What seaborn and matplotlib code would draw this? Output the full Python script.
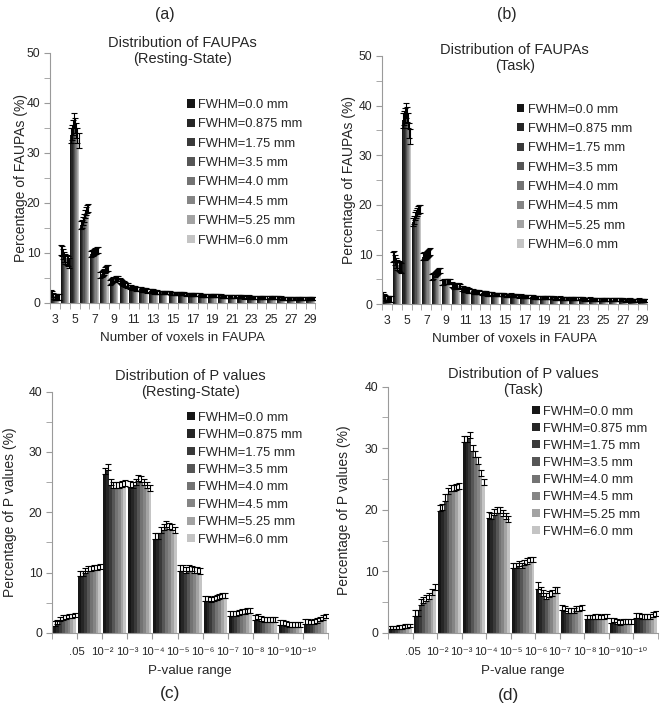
import numpy as np
import pandas as pd
import matplotlib
matplotlib.use('Agg')
import matplotlib.pyplot as plt
import seaborn as sns
from matplotlib.ticker import MultipleLocator
from matplotlib.container import BarContainer

# Series (smoothing kernels) and their gray shades
series = ['FWHM=0.0 mm', 'FWHM=0.875 mm', 'FWHM=1.75 mm', 'FWHM=3.5 mm',
          'FWHM=4.0 mm', 'FWHM=4.5 mm', 'FWHM=5.25 mm', 'FWHM=6.0 mm']
grays = ['#161616', '#262626', '#3a3a3a', '#565656',
         '#737373', '#858585', '#a3a3a3', '#c4c4c4']

# Top row: FAUPA size categories
voxels = [str(v) for v in range(3, 30)]

rest_faupa = [
    [2.0, 1.8, 1.3, 1.2, 1.1, 1.1, 1.1, 1.1],
    [10.5, 10.3, 9.8, 9.2, 8.8, 8.5, 8.3, 8.0],
    [33.5, 34.0, 35.0, 36.5, 35.5, 34.5, 33.5, 32.5],
    [15.5, 15.8, 16.3, 17.0, 17.8, 18.3, 18.8, 19.0],
    [9.8, 10.0, 10.0, 10.2, 10.3, 10.4, 10.5, 10.6],
    [5.5, 5.7, 6.0, 6.2, 6.5, 6.7, 6.9, 7.0],
    [4.0, 4.2, 4.4, 4.6, 4.7, 4.8, 4.9, 4.9],
    [4.4, 4.3, 4.1, 3.9, 3.8, 3.6, 3.5, 3.4],
    [3.1, 3.1, 3.0, 3.0, 2.9, 2.9, 2.8, 2.8],
    [2.7, 2.7, 2.6, 2.6, 2.5, 2.5, 2.5, 2.4],
    [2.4, 2.3, 2.3, 2.3, 2.2, 2.2, 2.2, 2.1],
    [2.1, 2.1, 2.1, 2.0, 2.0, 2.0, 2.0, 2.0],
    [2.0, 2.0, 1.9, 1.9, 1.9, 1.9, 1.9, 1.8],
    [1.9, 1.9, 1.8, 1.8, 1.8, 1.8, 1.7, 1.7],
    [1.7, 1.7, 1.7, 1.7, 1.6, 1.6, 1.6, 1.6],
    [1.6, 1.6, 1.5, 1.5, 1.5, 1.5, 1.5, 1.5],
    [1.5, 1.5, 1.4, 1.4, 1.4, 1.4, 1.4, 1.4],
    [1.4, 1.4, 1.4, 1.3, 1.3, 1.3, 1.3, 1.3],
    [1.3, 1.3, 1.3, 1.3, 1.2, 1.2, 1.2, 1.2],
    [1.2, 1.2, 1.2, 1.2, 1.2, 1.2, 1.1, 1.1],
    [1.2, 1.2, 1.1, 1.1, 1.1, 1.1, 1.1, 1.1],
    [1.1, 1.1, 1.1, 1.1, 1.0, 1.0, 1.0, 1.0],
    [1.1, 1.0, 1.0, 1.0, 1.0, 1.0, 1.0, 1.0],
    [1.0, 1.0, 1.0, 1.0, 0.9, 0.9, 0.9, 0.9],
    [0.9, 0.9, 0.9, 0.9, 0.9, 0.9, 0.9, 0.9],
    [0.9, 0.9, 0.9, 0.9, 0.9, 0.8, 0.8, 0.8],
    [0.9, 0.9, 0.8, 0.8, 0.8, 0.8, 0.8, 0.8],
]
rest_faupa_err = [0.6, 1.0, 1.5, 0.8, 0.6, 0.6, 0.5, 0.5, 0.4, 0.4, 0.4, 0.3, 0.3, 0.3,
                  0.3, 0.3, 0.3, 0.3, 0.3, 0.3, 0.3, 0.3, 0.3, 0.3, 0.3, 0.3, 0.3]

task_faupa = [
    [1.8, 1.5, 1.2, 1.0, 1.0, 1.0, 1.0, 1.0],
    [9.5, 9.8, 9.0, 8.4, 8.0, 7.7, 7.5, 7.3],
    [37.0, 37.5, 38.0, 39.0, 38.2, 37.0, 35.0, 33.8],
    [16.5, 17.0, 17.8, 18.2, 18.6, 19.0, 19.2, 19.2],
    [9.6, 9.8, 9.6, 9.8, 10.0, 10.2, 10.5, 10.6],
    [5.4, 5.7, 6.0, 6.2, 6.4, 6.6, 6.8, 6.8],
    [4.3, 4.4, 4.5, 4.6, 4.6, 4.6, 4.5, 4.5],
    [3.9, 3.8, 3.6, 3.6, 3.7, 3.8, 3.7, 3.6],
    [3.2, 3.1, 3.0, 3.0, 2.9, 2.9, 2.8, 2.8],
    [2.6, 2.6, 2.5, 2.5, 2.5, 2.4, 2.4, 2.4],
    [2.3, 2.3, 2.2, 2.2, 2.2, 2.1, 2.1, 2.1],
    [2.1, 2.1, 2.0, 2.0, 2.0, 2.0, 1.9, 1.9],
    [2.0, 1.9, 1.9, 1.9, 1.8, 1.8, 1.8, 1.8],
    [1.9, 1.8, 1.8, 1.7, 1.7, 1.7, 1.7, 1.6],
    [1.7, 1.6, 1.6, 1.6, 1.5, 1.5, 1.5, 1.5],
    [1.5, 1.5, 1.5, 1.4, 1.4, 1.4, 1.4, 1.4],
    [1.4, 1.4, 1.4, 1.3, 1.3, 1.3, 1.3, 1.3],
    [1.3, 1.3, 1.3, 1.3, 1.2, 1.2, 1.2, 1.2],
    [1.3, 1.2, 1.2, 1.2, 1.2, 1.2, 1.1, 1.1],
    [1.2, 1.2, 1.1, 1.1, 1.1, 1.1, 1.1, 1.1],
    [1.1, 1.1, 1.1, 1.1, 1.0, 1.0, 1.0, 1.0],
    [1.1, 1.0, 1.0, 1.0, 1.0, 1.0, 1.0, 1.0],
    [1.0, 1.0, 1.0, 1.0, 0.9, 0.9, 0.9, 0.9],
    [1.0, 0.9, 0.9, 0.9, 0.9, 0.9, 0.9, 0.9],
    [0.9, 0.9, 0.9, 0.9, 0.9, 0.8, 0.8, 0.8],
    [0.9, 0.9, 0.8, 0.8, 0.8, 0.8, 0.8, 0.8],
    [0.9, 0.8, 0.8, 0.8, 0.8, 0.8, 0.8, 0.8],
]
task_faupa_err = [0.6, 1.0, 1.5, 0.8, 0.7, 0.6, 0.5, 0.5, 0.5, 0.4, 0.4, 0.3, 0.3, 0.3,
                  0.3, 0.3, 0.3, 0.3, 0.3, 0.3, 0.3, 0.3, 0.3, 0.3, 0.3, 0.3, 0.3]

# Bottom row: P-value bins (labels sit on the bin boundaries)
pbins = ['>.05', '.05-1e-2', '1e-2-1e-3', '1e-3-1e-4', '1e-4-1e-5', '1e-5-1e-6',
         '1e-6-1e-7', '1e-7-1e-8', '1e-8-1e-9', '1e-9-1e-10', '<1e-10']
pvalue_ticks = ['.05', '10⁻²', '10⁻³', '10⁻⁴', '10⁻⁵',
                '10⁻⁶', '10⁻⁷', '10⁻⁸', '10⁻⁹', '10⁻¹⁰']

rest_p = [
    [1.2, 1.5, 2.0, 2.2, 2.3, 2.4, 2.5, 2.6],
    [9.5, 9.5, 10.0, 10.3, 10.3, 10.5, 10.5, 10.6],
    [26.3, 27.0, 24.5, 24.0, 24.0, 24.0, 24.2, 24.3],
    [24.2, 24.0, 24.5, 25.2, 25.0, 24.5, 24.0, 23.5],
    [15.5, 15.5, 16.5, 17.0, 17.5, 17.3, 17.0, 16.5],
    [10.3, 10.3, 10.0, 10.3, 10.2, 10.0, 10.0, 9.8],
    [5.3, 5.3, 5.2, 5.3, 5.5, 5.7, 5.8, 5.8],
    [2.8, 2.8, 2.8, 3.0, 3.2, 3.2, 3.3, 3.3],
    [2.2, 2.3, 2.0, 1.8, 1.8, 1.8, 1.8, 1.8],
    [1.3, 1.3, 1.2, 1.0, 1.0, 1.0, 1.0, 1.0],
    [1.5, 1.5, 1.4, 1.5, 1.7, 1.9, 2.1, 2.4],
]
rest_p_err = [0.7, 0.8, 1.0, 1.0, 1.0, 0.9, 0.8, 0.8, 0.8, 0.8, 0.8]

task_p = [
    [0.6, 0.6, 0.6, 0.7, 0.7, 0.8, 0.8, 0.9],
    [2.8, 2.8, 4.5, 4.8, 5.2, 5.5, 6.2, 7.0],
    [19.8, 20.0, 21.5, 22.5, 23.0, 23.0, 23.2, 23.3],
    [31.0, 31.0, 31.7, 29.5, 28.5, 27.5, 25.5, 24.0],
    [18.7, 18.5, 19.2, 19.5, 19.5, 19.0, 18.5, 18.0],
    [10.5, 10.5, 10.8, 10.5, 11.0, 11.2, 11.5, 11.5],
    [7.2, 6.5, 6.0, 5.5, 5.8, 6.0, 6.5, 6.5],
    [3.8, 3.5, 3.2, 3.2, 3.3, 3.5, 3.5, 3.7],
    [2.2, 2.2, 2.2, 2.3, 2.3, 2.2, 2.3, 2.4],
    [1.6, 1.7, 1.5, 1.3, 1.4, 1.4, 1.4, 1.4],
    [2.4, 2.4, 2.3, 2.3, 2.2, 2.3, 2.6, 2.8],
]
task_p_err = [0.6, 1.0, 1.0, 1.0, 1.0, 0.9, 1.0, 0.8, 0.7, 0.8, 0.8]


def to_long(cats, values):
    rows = []
    for cat, row in zip(cats, values):
        for s, v in zip(series, row):
            rows.append({'cat': cat, 'series': s, 'value': v})
    return pd.DataFrame(rows)


sns.set_style('white')
plt.rcParams['font.family'] = ['Liberation Sans', 'DejaVu Sans']
text_color = '#262626'
spine_color = '#9a9a9a'

fig = plt.figure(figsize=(6.6, 7.16), dpi=100)
ax_a = fig.add_axes([0.076, 0.577, 0.402, 0.349])
ax_b = fig.add_axes([0.579, 0.575, 0.402, 0.347])
ax_c = fig.add_axes([0.079, 0.116, 0.418, 0.337])
ax_d = fig.add_axes([0.588, 0.116, 0.409, 0.344])

# axes, categories, values, errors, title, row, legend anchor, legend spacing, ylabel x, title y
panels = [
    (ax_a, voxels, rest_faupa, rest_faupa_err, 'Distribution of FAUPAs\n(Resting-State)', 'top',
     (0.517, 0.816), 0.57, -0.085, 1.008),
    (ax_b, voxels, task_faupa, task_faupa_err, 'Distribution of FAUPAs\n(Task)', 'top',
     (0.507, 0.808), 0.57, -0.100, 0.99),
    (ax_c, pbins, rest_p, rest_p_err, 'Distribution of P values\n(Resting-State)', 'bottom',
     (0.489, 0.917), 0.42, -0.128, 1.033),
    (ax_d, pbins, task_p, task_p_err, 'Distribution of P values\n(Task)', 'bottom',
     (0.533, 0.923), 0.40, -0.138, 1.018),
]

for ax, cats, vals, errs, title, row, leg_pos, leg_space, ylab_x, title_y in panels:
    df = to_long(cats, vals)
    width = 0.88 if row == 'top' else 0.92
    sns.barplot(data=df, x='cat', y='value', hue='series', order=cats, hue_order=series,
                palette=grays, saturation=1, width=width, gap=0, ax=ax, linewidth=0)

    # error bars on top of each bar
    bar_groups = [c for c in ax.containers if isinstance(c, BarContainer)]
    for cont in bar_groups:
        xs = [p.get_x() + p.get_width() / 2 for p in cont]
        ys = [p.get_height() for p in cont]
        if row == 'top':
            yerr = errs
        else:
            yerr = [np.zeros(len(errs)), errs]
        ax.errorbar(xs, ys, yerr=yerr, fmt='none', ecolor='black',
                    elinewidth=0.8, capsize=2.2, capthick=0.8)

    handles, labels = ax.get_legend_handles_labels()
    ax.legend(handles[:8], labels[:8], loc='upper left', bbox_to_anchor=leg_pos,
              frameon=False, fontsize=9.3, handlelength=0.6, handleheight=0.6,
              handletextpad=0.25, labelspacing=leg_space, borderpad=0,
              borderaxespad=0, labelcolor=text_color)

    n = len(cats)
    ax.set_xlim(-0.5, n - 0.5)
    if row == 'top':
        ax.set_ylim(0, 50)
        ax.set_xticks(range(0, n, 2))
        ax.set_xticklabels(cats[::2])
        ax.set_xticks(np.arange(-0.5, n, 1), minor=True)
        ax.tick_params(axis='x', which='major', length=0, pad=8, labelsize=8.8)
        ax.tick_params(axis='x', which='minor', length=4, color=spine_color)
        ax.set_xlabel('Number of voxels in FAUPA', fontsize=9.6, color=text_color, labelpad=4)
        ax.set_ylabel('Percentage of FAUPAs (%)', fontsize=10, color=text_color)
    else:
        ax.set_ylim(0, 40)
        ax.set_xticks(np.arange(0.5, n - 1, 1))
        ax.set_xticklabels(pvalue_ticks)
        ax.set_xticks([-0.5, n - 0.5], minor=True)
        ax.tick_params(axis='x', which='both', length=4, color=spine_color, pad=6, labelsize=8.2)
        ax.set_xlabel('P-value range', fontsize=9.6, color=text_color, labelpad=6)
        ax.set_ylabel('Percentage of P values (%)', fontsize=10, color=text_color)
    ax.yaxis.set_label_coords(ylab_x, 0.5)

    ax.yaxis.set_major_locator(MultipleLocator(10))
    ax.yaxis.set_minor_locator(MultipleLocator(5))
    ax.tick_params(axis='y', which='both', length=4, color=spine_color, left=True, pad=3,
                   labelsize=8.8)
    ax.tick_params(axis='both', labelcolor=text_color)
    ax.tick_params(axis='x', which='both', bottom=True)

    for side in ['top', 'right']:
        ax.spines[side].set_visible(False)
    for side in ['left', 'bottom']:
        ax.spines[side].set_color(spine_color)
        ax.spines[side].set_linewidth(0.8)

    ax.text(0.5, title_y, title, transform=ax.transAxes, ha='center', va='center',
            fontsize=10.5, color=text_color, linespacing=1.2)

fig.text(0.25, 0.980, '(a)', ha='center', va='center', fontsize=11.5, color=text_color)
fig.text(0.768, 0.980, '(b)', ha='center', va='center', fontsize=11.5, color=text_color)
fig.text(0.258, 0.032, '(c)', ha='center', va='center', fontsize=12.5, color=text_color)
fig.text(0.770, 0.029, '(d)', ha='center', va='center', fontsize=12.5, color=text_color)

fig.savefig('out.png', dpi=100)
